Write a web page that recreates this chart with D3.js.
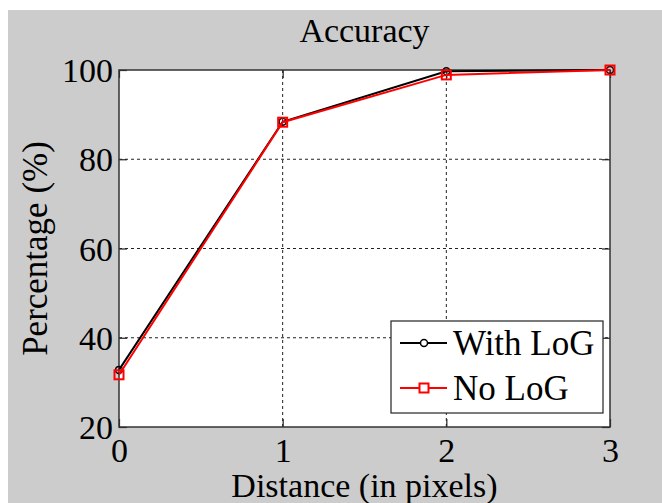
<!DOCTYPE html>
<html>
<head>
<meta charset="utf-8">
<script src="https://cdn.jsdelivr.net/npm/d3@7"></script>
<style>
  body { margin: 0; background: #fff; }
  svg { display: block; }
  text { font-family: 'Liberation Serif', 'Times New Roman', serif; fill: #000; }
</style>
</head>
<body>
<div id="chart"></div>
<script>
const distances = [0, 1, 2, 3]
const withLog = [32.8, 88.4, 99.7, 100]
const noLog = [31.7, 88.3, 98.9, 100]
const xTicks = [0, 1, 2, 3]
const yTicks = [20, 40, 60, 80, 100]
const seriesNames = ['With LoG', 'No LoG']

const W = 662
const H = 503
const margin = { top: 70, right: 52, bottom: 76, left: 119 }
const width = W - margin.left - margin.right
const height = H - margin.top - margin.bottom
const serif = "'Liberation Serif', 'Times New Roman', serif"

const svg = d3.select('#chart').append('svg').attr('width', W).attr('height', H)

// gray figure background
svg.append('rect')
  .attr('x', 8).attr('y', 10)
  .attr('width', W - 8).attr('height', H - 10)
  .attr('fill', '#cccccc')

const bounds = svg.append('g').attr('transform', `translate(${margin.left}, ${margin.top})`)

const xScale = d3.scaleLinear().domain([0, 3]).range([0, width])
const yScale = d3.scaleLinear().domain([20, 100]).range([height, 0])

bounds.append('rect')
  .attr('width', width).attr('height', height)
  .attr('fill', '#fff')

// dotted grid
bounds.selectAll('.gx').data(xTicks.slice(1, -1)).join('line')
  .attr('x1', (d) => xScale(d)).attr('x2', (d) => xScale(d))
  .attr('y1', 0).attr('y2', height)
  .attr('stroke', '#222').attr('stroke-width', 1).attr('stroke-dasharray', '3,3')
bounds.selectAll('.gy').data(yTicks.slice(1, -1)).join('line')
  .attr('y1', (d) => yScale(d)).attr('y2', (d) => yScale(d))
  .attr('x1', 0).attr('x2', width)
  .attr('stroke', '#222').attr('stroke-width', 1).attr('stroke-dasharray', '3,3')

// axes with inward ticks
const styleAxis = (g) => {
  g.attr('font-family', serif).attr('font-size', 34)
  g.select('.domain').remove()
  g.selectAll('.tick line').attr('stroke', '#222').attr('stroke-width', 1.2)
  g.selectAll('text').style('font-family', serif).style('font-size', '34px').attr('fill', '#000')
}

bounds.append('g')
  .attr('transform', `translate(0, ${height})`)
  .call(d3.axisBottom(xScale).tickValues(xTicks).tickSize(-8).tickPadding(11).tickFormat(d3.format('d')))
  .call(styleAxis)
bounds.append('g')
  .call(d3.axisTop(xScale).tickValues(xTicks).tickSize(-8).tickFormat(''))
  .call(styleAxis)
bounds.append('g')
  .call(d3.axisLeft(yScale).tickValues(yTicks).tickSize(-8).tickPadding(6).tickFormat(d3.format('d')))
  .call(styleAxis)
  .selectAll('text').attr('dy', '0.34em')
bounds.append('g')
  .attr('transform', `translate(${width}, 0)`)
  .call(d3.axisRight(yScale).tickValues(yTicks).tickSize(-8).tickFormat(''))
  .call(styleAxis)

// frame
bounds.append('rect')
  .attr('width', width).attr('height', height)
  .attr('fill', 'none').attr('stroke', '#333').attr('stroke-width', 1.5)

const line = d3.line()
  .x((d, i) => xScale(distances[i]))
  .y((d) => yScale(d))

// With LoG (black, circles)
bounds.append('path').datum(withLog)
  .attr('fill', 'none').attr('stroke', '#000').attr('stroke-width', 2)
  .attr('d', line)
bounds.selectAll('.c').data(withLog).join('circle')
  .attr('cx', (d, i) => xScale(distances[i])).attr('cy', (d) => yScale(d))
  .attr('r', 3.5).attr('fill', 'none').attr('stroke', '#000').attr('stroke-width', 1.5)

// No LoG (red, squares)
bounds.append('path').datum(noLog)
  .attr('fill', 'none').attr('stroke', '#ff0000').attr('stroke-width', 2)
  .attr('d', line)
bounds.selectAll('.s').data(noLog).join('rect')
  .attr('x', (d, i) => xScale(distances[i]) - 4.5).attr('y', (d) => yScale(d) - 4.5)
  .attr('width', 9).attr('height', 9)
  .attr('fill', 'none').attr('stroke', '#ff0000').attr('stroke-width', 2)

// title and axis labels
svg.append('text')
  .attr('x', margin.left + width / 2).attr('y', 42)
  .attr('text-anchor', 'middle').style('font-size', '34px')
  .text('Accuracy')
svg.append('text')
  .attr('x', margin.left + width / 2).attr('y', 497)
  .attr('text-anchor', 'middle').style('font-size', '34px')
  .text('Distance (in pixels)')
svg.append('text')
  .attr('transform', `translate(47, ${margin.top + height / 2}) rotate(-90)`)
  .attr('text-anchor', 'middle').style('font-size', '35px')
  .text('Percentage (%)')

// legend
const legend = svg.append('g').attr('transform', 'translate(391, 321)')
legend.append('rect')
  .attr('width', 212).attr('height', 92)
  .attr('fill', '#fff').attr('stroke', '#222').attr('stroke-width', 1.2)
const legendColors = ['#000', '#ff0000']
seriesNames.forEach((name, i) => {
  const y = 22 + i * 45
  legend.append('line')
    .attr('x1', 9).attr('x2', 56).attr('y1', y).attr('y2', y)
    .attr('stroke', legendColors[i]).attr('stroke-width', 2)
  if (i === 0) {
    legend.append('circle').attr('cx', 33).attr('cy', y).attr('r', 3.5)
      .attr('fill', '#fff').attr('stroke', '#000').attr('stroke-width', 1.5)
  } else {
    legend.append('rect').attr('x', 28.5).attr('y', y - 4.5).attr('width', 9).attr('height', 9)
      .attr('fill', '#fff').attr('stroke', '#ff0000').attr('stroke-width', 2)
  }
  legend.append('text')
    .attr('x', 62).attr('y', y + 12)
    .style('font-size', '35px')
    .text(name)
})
</script>
</body>
</html>
